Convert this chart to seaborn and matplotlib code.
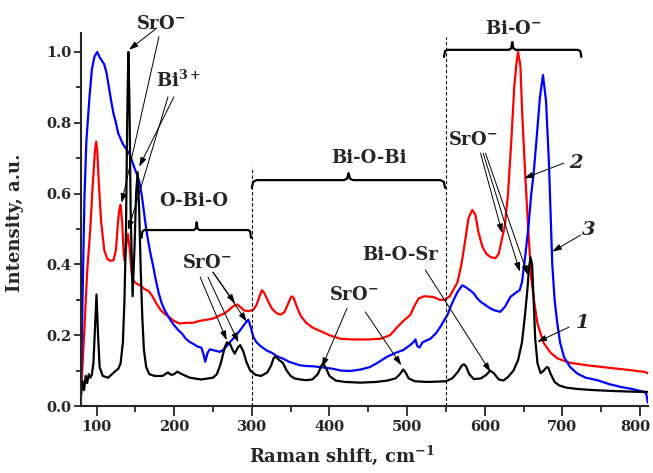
import numpy as np
import pandas as pd
import matplotlib
matplotlib.use("Agg")
import matplotlib.pyplot as plt
import matplotlib.transforms as mtransforms
from matplotlib.ticker import MultipleLocator, FormatStrFormatter
import seaborn as sns

# ---- Raman spectra (intensity normalised) ----
shift_1 = [80, 82, 84, 86, 88, 90, 92, 94, 96, 98, 100, 102, 104, 108, 115, 120, 125, 128, 131,
           134, 136, 138, 139.5, 141, 142.5, 144, 146.5, 149, 151, 153, 155, 157, 159, 161, 164,
           168, 175, 185, 192, 196, 200, 204, 210, 220, 235, 250, 255, 260, 265, 268, 272, 275,
           278, 282, 285, 289, 293, 298, 305, 312, 320, 325, 328, 331, 335, 340, 345, 350, 355,
           362, 370, 378, 385, 390, 392, 396, 400, 408, 420, 440, 460, 475, 485, 490, 495, 498,
           502, 510, 525, 540, 550, 558, 565, 570, 573, 576, 580, 586, 595, 602, 607, 612, 618,
           624, 630, 637, 643, 648, 652, 655, 657, 659, 661, 663, 665, 668, 672, 676, 680, 682,
           685, 690, 696, 705, 720, 740, 770, 800, 810]
int_1 = [0.03, 0.07, 0.045, 0.085, 0.065, 0.09, 0.08, 0.088, 0.12, 0.22, 0.315, 0.2, 0.11, 0.085,
         0.08, 0.09, 0.1, 0.105, 0.12, 0.18, 0.3, 0.5, 0.8, 1.0, 0.85, 0.55, 0.31, 0.45, 0.6, 0.66,
         0.55, 0.38, 0.25, 0.16, 0.11, 0.09, 0.085, 0.085, 0.095, 0.088, 0.09, 0.097, 0.09, 0.08,
         0.075, 0.08, 0.09, 0.12, 0.165, 0.18, 0.175, 0.16, 0.148, 0.165, 0.172, 0.155, 0.125, 0.1,
         0.088, 0.085, 0.095, 0.115, 0.135, 0.14, 0.13, 0.122, 0.1, 0.085, 0.078, 0.075, 0.073,
         0.075, 0.09, 0.115, 0.12, 0.105, 0.085, 0.072, 0.068, 0.066, 0.068, 0.072, 0.078, 0.088,
         0.103, 0.095, 0.078, 0.07, 0.068, 0.069, 0.07, 0.078, 0.095, 0.113, 0.118, 0.112, 0.09,
         0.076, 0.078, 0.088, 0.1, 0.092, 0.075, 0.072, 0.082, 0.1, 0.13, 0.18, 0.26, 0.33, 0.39,
         0.42, 0.4, 0.3, 0.19, 0.12, 0.093, 0.1, 0.11, 0.108, 0.09, 0.068, 0.058, 0.052, 0.048,
         0.045, 0.042, 0.04, 0.04]

shift_2 = [80, 84, 88, 92, 95, 98, 99.5, 101, 103, 106, 110, 114, 118, 122, 125, 127, 129, 131,
           133, 135, 136.5, 138, 140.5, 143, 145, 147, 152, 157, 162, 167, 172, 177, 183, 188,
           194, 200, 207, 215, 224, 232, 240, 250, 258, 265, 270, 276, 281, 285, 290, 296, 302,
           306, 310, 313, 316, 320, 326, 332, 337, 342, 347, 351, 354, 358, 363, 370, 378, 388,
           400, 414, 430, 450, 466, 478, 487, 495, 504, 510, 515, 522, 534, 542, 548, 555, 560,
           565, 570, 575, 579, 584, 588, 592, 597, 602, 608, 614, 618, 622, 626, 630, 634, 638,
           641, 643, 646, 648, 652, 656, 660, 664, 668, 676, 685, 694, 710, 732, 760, 785, 807, 810]
int_2 = [0.03, 0.2, 0.38, 0.5, 0.62, 0.72, 0.747, 0.72, 0.63, 0.52, 0.44, 0.415, 0.41, 0.412,
         0.44, 0.5, 0.55, 0.568, 0.52, 0.43, 0.41, 0.45, 0.486, 0.44, 0.38, 0.355, 0.345, 0.34,
         0.33, 0.325, 0.31, 0.29, 0.27, 0.26, 0.25, 0.24, 0.233, 0.235, 0.235, 0.24, 0.243, 0.247,
         0.255, 0.262, 0.27, 0.282, 0.287, 0.28, 0.27, 0.268, 0.272, 0.285, 0.31, 0.327, 0.32,
         0.3, 0.275, 0.262, 0.258, 0.265, 0.29, 0.31, 0.305, 0.28, 0.255, 0.235, 0.222, 0.212,
         0.2, 0.19, 0.188, 0.188, 0.19, 0.2, 0.222, 0.24, 0.257, 0.285, 0.304, 0.31, 0.308, 0.3,
         0.3, 0.31, 0.33, 0.35, 0.4, 0.47, 0.53, 0.554, 0.54, 0.49, 0.45, 0.43, 0.42, 0.418, 0.43,
         0.47, 0.51, 0.6, 0.74, 0.9, 0.97, 1.0, 0.96, 0.84, 0.66, 0.5, 0.36, 0.29, 0.232, 0.178,
         0.15, 0.134, 0.122, 0.115, 0.108, 0.102, 0.096, 0.092]

shift_3 = [80, 82, 84.5, 87, 91, 94, 97.4, 101, 104, 107, 110, 113, 116, 119, 122, 125, 128, 131,
           134, 137, 140, 143, 146, 149, 152, 155, 158, 161, 164, 167, 170, 173, 176, 180, 184,
           188, 192, 196, 200, 205, 210, 215, 220, 225, 230, 235, 238, 240, 243, 246, 250, 255,
           259, 264, 268, 272, 278, 285, 291, 295.6, 299, 302, 306, 312, 319, 326, 333, 340, 348,
           355, 362, 370, 380, 388, 395, 405, 415, 427, 440, 452, 462, 474, 485, 495, 504, 508,
           510.7, 513, 516, 520, 525, 530, 537, 543, 548, 552, 556, 560, 565, 571, 576, 581, 586,
           590, 595, 601, 607, 613, 620, 626, 633, 640, 645, 648, 652, 656, 660, 663, 667, 671,
           675, 679, 682.7, 685, 687, 690, 693.5, 697, 702, 710, 719, 730, 745, 760, 775, 790, 805,
           808, 810]
int_3 = [0.05, 0.3, 0.59, 0.75, 0.874, 0.95, 0.987, 1.0, 0.985, 0.975, 0.965, 0.94, 0.9, 0.86,
         0.825, 0.8, 0.77, 0.755, 0.74, 0.73, 0.72, 0.71, 0.69, 0.672, 0.655, 0.635, 0.6, 0.55, 0.5,
         0.46, 0.425, 0.395, 0.36, 0.32, 0.29, 0.27, 0.255, 0.24, 0.228, 0.215, 0.205, 0.19, 0.181,
         0.175, 0.168, 0.165, 0.145, 0.125, 0.15, 0.16, 0.158, 0.155, 0.153, 0.16, 0.17, 0.181,
         0.195, 0.214, 0.232, 0.244, 0.22, 0.195, 0.18, 0.168, 0.157, 0.15, 0.14, 0.134, 0.125,
         0.12, 0.115, 0.113, 0.112, 0.11, 0.108, 0.105, 0.1, 0.099, 0.103, 0.11, 0.122, 0.139,
         0.15, 0.158, 0.172, 0.18, 0.188, 0.17, 0.165, 0.18, 0.185, 0.19, 0.205, 0.224, 0.243,
         0.257, 0.28, 0.3, 0.322, 0.341, 0.335, 0.327, 0.318, 0.305, 0.294, 0.285, 0.276, 0.27,
         0.266, 0.28, 0.308, 0.32, 0.327, 0.35, 0.42, 0.5, 0.6, 0.657, 0.76, 0.87, 0.935, 0.86,
         0.686, 0.53, 0.4, 0.3, 0.233, 0.18, 0.139, 0.11, 0.092, 0.08, 0.073, 0.062, 0.054, 0.048,
         0.04, 0.035, 0.01]

curve_names = ["1", "2", "3"]
curve_colors = {"1": "black", "2": "#ff0000", "3": "#0000ff"}
x_ticks = [100, 200, 300, 400, 500, 600, 700, 800]
y_ticks = [0.0, 0.2, 0.4, 0.6, 0.8, 1.0]

frames = []
for name, xs, ys in zip(curve_names, [shift_1, shift_2, shift_3], [int_1, int_2, int_3]):
    frames.append(pd.DataFrame({"shift": xs, "intensity": ys, "curve": name}))
spectra = pd.concat(frames, ignore_index=True)

sns.set_style("ticks")
plt.rcParams["font.family"] = ["DejaVu Serif", "DejaVu Sans"]
plt.rcParams["font.weight"] = "bold"
plt.rcParams["axes.labelweight"] = "bold"
plt.rcParams["mathtext.fontset"] = "custom"
plt.rcParams["mathtext.rm"] = "DejaVu Serif:bold"
plt.rcParams["mathtext.it"] = "DejaVu Serif:bold"
plt.rcParams["mathtext.bf"] = "DejaVu Serif:bold"

fig = plt.figure(figsize=(6.53, 4.73), dpi=100)
ax = fig.add_axes([0.124, 0.1416, 0.868, 0.789])

sns.lineplot(data=spectra, x="shift", y="intensity", hue="curve",
             hue_order=["2", "3", "1"], palette=curve_colors, estimator=None,
             sort=False, legend=False, linewidth=1.6, ax=ax)

ax.set_xlim(80, 810)
ax.set_ylim(0, 1.054)
ax.set_xticks(x_ticks)
ax.set_yticks(y_ticks)
ax.xaxis.set_minor_locator(MultipleLocator(50))
ax.yaxis.set_minor_locator(MultipleLocator(0.1))
ax.yaxis.set_major_formatter(FormatStrFormatter("%.1f"))
sns.despine(ax=ax)
for side in ("left", "bottom"):
    ax.spines[side].set_linewidth(1.5)
ax.tick_params(axis="x", which="major", length=7, width=1.3, labelsize=10.5, pad=3)
ax.tick_params(axis="x", which="minor", length=4.5, width=1.3)
ax.tick_params(axis="y", which="major", length=5, width=1.3, labelsize=10.5, pad=2)
ax.tick_params(axis="y", which="minor", length=3.5, width=1.3)
for lab in ax.get_xticklabels() + ax.get_yticklabels():
    lab.set_fontweight("bold")

# nudge the last x tick label so it stays inside the figure
last_label = ax.get_xticklabels()[-1]
last_label.set_transform(last_label.get_transform() +
                         mtransforms.ScaledTranslation(-5 / 100, 0, fig.dpi_scale_trans))

ax.set_xlabel(r"Raman shift, cm$^{-1}$", fontsize=13, fontweight="bold")
ax.set_ylabel("Intensity, a.u.", fontsize=13, fontweight="bold")
ax.xaxis.set_label_coords(0.46, -0.1)
ax.yaxis.set_label_coords(-0.1, 0.49)

# region separators
ax.plot([300, 300], [0, 0.675], ls=(0, (3, 2)), lw=0.8, color="black")
ax.plot([550, 550], [0, 1.043], ls=(0, (3, 2)), lw=0.8, color="black")


def brace(x0, x1, xc, y, drop, rise):
    """Draw a horizontal curly brace opening downward."""
    e = (x1 - x0) * 0.025
    xs = [x0, x0 + e * 0.3, x0 + e, xc - e, xc - e * 0.3, xc, xc + e * 0.3, xc + e,
          x1 - e, x1 - e * 0.3, x1]
    ys = [y - drop, y - drop * 0.2, y, y, y + rise * 0.2, y + rise, y + rise * 0.2, y,
          y, y - drop * 0.2, y - drop]
    ax.plot(xs, ys, color="black", lw=1.6, solid_joinstyle="round", clip_on=False)


brace(158, 299, 229, 0.497, 0.022, 0.022)
brace(300, 549, 424.6, 0.638, 0.022, 0.02)
brace(547.5, 724.5, 635.5, 1.006, 0.02, 0.022)

label_kw = dict(fontsize=13, fontweight="bold", ha="center", va="center")
sro = r"SrO$^{-}$"
ax.text(183, 1.08, sro, **label_kw, clip_on=False)
ax.text(205, 0.921, r"Bi$^{3+}$", **label_kw)
ax.text(225.6, 0.578, "O-Bi-O", **label_kw)
ax.text(242.6, 0.405, sro, **label_kw)
ax.text(450.5, 0.70, "Bi-O-Bi", **label_kw)
ax.text(637, 1.066, r"Bi-O$^{-}$", **label_kw, clip_on=False)
ax.text(584, 0.752, sro, **label_kw)
ax.text(491.4, 0.426, "Bi-O-Sr", **label_kw)
ax.text(432, 0.313, sro, **label_kw)

num_kw = dict(fontsize=14, fontweight="bold", fontstyle="italic", ha="center", va="center")
ax.text(725.8, 0.234, "1", **num_kw)
ax.text(717, 0.686, "2", **num_kw)
ax.text(734, 0.497, "3", **num_kw)

arrow_kw = dict(arrowstyle="-|>,head_length=0.55,head_width=0.18", color="black",
                lw=0.7, shrinkA=0, shrinkB=0)
pointers = [
    ((177.9, 1.068), (141.8, 1.006)),
    ((180.4, 1.043), (132.3, 0.574)),
    ((192.0, 0.873), (140.8, 0.497)),
    ((199.7, 0.873), (155.0, 0.676)),
    ((233.5, 0.364), (267.7, 0.186)),
    ((243.6, 0.364), (282.7, 0.180)),
    ((250.0, 0.378), (278.5, 0.290)),
    ((250.0, 0.378), (293.5, 0.238)),
    ((422.6, 0.276), (390.3, 0.110)),
    ((446.2, 0.266), (492.6, 0.115)),
    ((523.6, 0.384), (607.5, 0.096)),
    ((594.6, 0.714), (622.6, 0.488)),
    ((598.0, 0.714), (645.3, 0.379)),
    ((601.0, 0.714), (655.6, 0.370)),
    ((702.0, 0.686), (650.5, 0.643)),
    ((723.6, 0.483), (687.0, 0.436)),
    ((708.7, 0.223), (667.7, 0.181)),
]
for start, end in pointers:
    ax.annotate("", xy=end, xytext=start, arrowprops=arrow_kw, annotation_clip=False)

fig.savefig("out.png", dpi=100)
